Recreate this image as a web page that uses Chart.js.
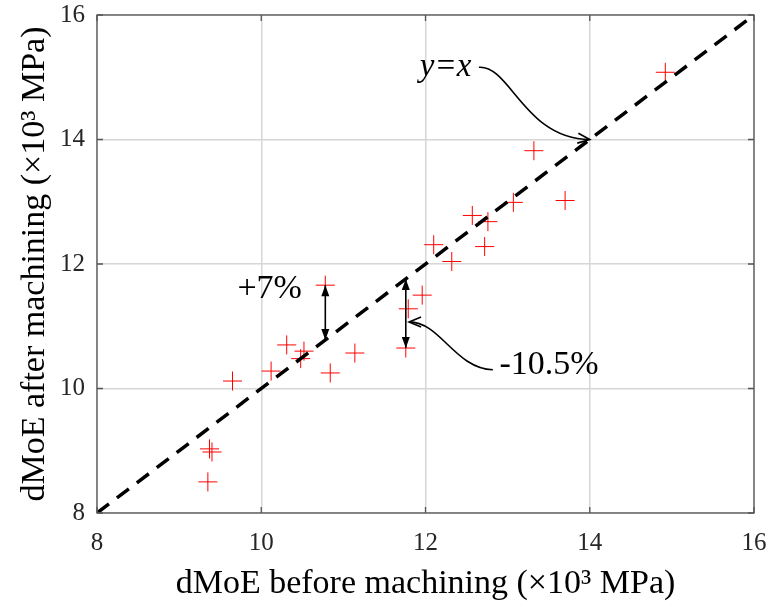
<!DOCTYPE html>
<html>
<head>
<meta charset="utf-8">
<script src="https://cdn.jsdelivr.net/npm/chart.js@4"></script>
<style>
  html, body { margin: 0; padding: 0; background: #fff; }
  #wrap { width: 771px; height: 607px; }
</style>
</head>
<body>
<div id="wrap"><canvas id="moe"></canvas></div>
<script>
// dMoE (x10^3 MPa) of each specimen before / after machining
const dmoeBefore = [9.35, 9.37, 9.40, 9.65, 10.12, 10.31, 10.48, 10.52, 10.78, 10.84, 11.14, 11.76, 11.79, 11.96, 12.10, 12.32, 12.57, 12.72, 12.76, 13.07, 13.32, 13.70, 14.92];
const dmoeAfter  = [8.50, 9.03, 8.98, 10.12, 10.28, 10.70, 10.48, 10.60, 11.66, 10.25, 10.57, 10.65, 11.28, 11.50, 12.31, 12.04, 12.78, 12.28, 12.68, 12.99, 13.82, 13.02, 15.08];
const axisTicks = [8, 10, 12, 14, 16];
const identityLine = [8, 16];

const points = dmoeBefore.map((x, i) => ({ x: x, y: dmoeAfter[i] }));
const serif = "'Liberation Serif', 'Times New Roman', serif";

function arrowHead(ctx, x, y, angle, len, half, filled) {
  ctx.save();
  ctx.translate(x, y);
  ctx.rotate(angle);
  ctx.beginPath();
  ctx.moveTo(-len, -half);
  ctx.lineTo(0, 0);
  ctx.lineTo(-len, half);
  if (filled) { ctx.closePath(); ctx.fill(); } else { ctx.stroke(); }
  ctx.restore();
}

function doubleArrow(ctx, xs, ys, xv, y1, y2) {
  const px = xs.getPixelForValue(xv);
  const a = ys.getPixelForValue(y1), b = ys.getPixelForValue(y2);
  ctx.beginPath();
  ctx.moveTo(px, a);
  ctx.lineTo(px, b);
  ctx.stroke();
  arrowHead(ctx, px, a, -Math.PI / 2, 11, 4, true);
  arrowHead(ctx, px, b, Math.PI / 2, 11, 4, true);
}

// frame, inward ticks and the text/arrow callouts
const callouts = {
  id: 'callouts',
  afterDatasetsDraw(chart) {
    const ctx = chart.ctx, area = chart.chartArea;
    const xs = chart.scales.x, ys = chart.scales.y;
    const X = v => xs.getPixelForValue(v), Y = v => ys.getPixelForValue(v);
    ctx.save();

    ctx.strokeStyle = '#555';
    ctx.lineWidth = 1.3;
    ctx.strokeRect(area.left, area.top, area.right - area.left, area.bottom - area.top);
    ctx.beginPath();
    axisTicks.forEach(t => {
      ctx.moveTo(X(t), area.bottom); ctx.lineTo(X(t), area.bottom - 6);
      ctx.moveTo(X(t), area.top); ctx.lineTo(X(t), area.top + 6);
      ctx.moveTo(area.left, Y(t)); ctx.lineTo(area.left + 6, Y(t));
      ctx.moveTo(area.right, Y(t)); ctx.lineTo(area.right - 6, Y(t));
    });
    ctx.stroke();

    ctx.fillStyle = '#000';
    ctx.strokeStyle = '#000';
    ctx.lineWidth = 1.6;
    ctx.textBaseline = 'middle';
    ctx.textAlign = 'left';

    // y=x label and curved pointer to (14,14)
    ctx.font = 'italic 33px ' + serif;
    ctx.fillText('y=x', X(11.93), Y(15.16));
    ctx.beginPath();
    ctx.moveTo(X(12.65), Y(15.16));
    ctx.bezierCurveTo(X(13.03), Y(15.2), X(13.21), Y(14.0), X(14.0), Y(14.0));
    ctx.stroke();
    arrowHead(ctx, X(14.0), Y(14.0), Math.atan2(Y(14.0) - Y(14.03), X(14.0) - X(13.8)), 12, 5, false);

    // +7% callout
    ctx.font = '34px ' + serif;
    ctx.fillText('+7%', X(9.71), Y(11.6));
    doubleArrow(ctx, xs, ys, 10.78, 11.66, 10.78);

    // -10.5% callout
    doubleArrow(ctx, xs, ys, 11.76, 11.76, 10.65);
    ctx.fillText('-10.5%', X(12.9), Y(10.38));
    ctx.beginPath();
    ctx.moveTo(X(12.82), Y(10.3));
    ctx.bezierCurveTo(X(12.36), Y(10.32), X(12.18), Y(11.07), X(11.8), Y(11.07));
    ctx.stroke();
    arrowHead(ctx, X(11.8), Y(11.07), Math.PI, 12, 5, false);

    ctx.restore();
  }
};

new Chart(document.getElementById('moe'), {
  type: 'scatter',
  data: {
    datasets: [
      {
        type: 'line',
        label: 'y=x',
        data: identityLine.map(v => ({ x: v, y: v })),
        borderColor: '#000',
        borderWidth: 3.5,
        borderDash: [15, 10],
        pointRadius: 0,
        fill: false
      },
      {
        label: 'dMoE',
        data: points,
        pointStyle: 'cross',
        pointRadius: 9.5,
        pointHoverRadius: 9.5,
        borderColor: '#ff0000',
        backgroundColor: '#ff0000',
        pointBorderWidth: 1
      }
    ]
  },
  options: {
    responsive: true,
    maintainAspectRatio: false,
    animation: false,
    events: [],
    layout: { padding: { left: 0, top: 15, right: 17, bottom: 0 } },
    plugins: {
      legend: { display: false },
      tooltip: { enabled: false }
    },
    scales: {
      x: {
        type: 'linear',
        min: 8, max: 16,
        afterFit: s => { s.height = 94; s.paddingLeft = 0; s.paddingRight = 0; },
        afterBuildTicks: s => { s.ticks = axisTicks.map(v => ({ value: v })); },
        grid: { color: '#d6d6d6', lineWidth: 1.5, drawTicks: false },
        border: { display: false },
        ticks: { color: '#262626', font: { family: serif, size: 25 }, padding: 15 },
        title: {
          display: true,
          text: 'dMoE before machining (×10³ MPa)',
          color: '#000',
          font: { family: serif, size: 34 },
          padding: { top: 0, bottom: 3 }
        }
      },
      y: {
        type: 'linear',
        min: 8, max: 16,
        afterFit: s => { s.width = 97; s.paddingTop = 0; s.paddingBottom = 0; },
        afterBuildTicks: s => { s.ticks = axisTicks.map(v => ({ value: v })); },
        grid: { color: '#d6d6d6', lineWidth: 1.5, drawTicks: false },
        border: { display: false },
        ticks: { color: '#262626', font: { family: serif, size: 25 }, padding: 12 },
        title: {
          display: true,
          text: 'dMoE after machining (×10³ MPa)',
          color: '#000',
          font: { family: serif, size: 34 },
          padding: { top: 15, bottom: 0 }
        }
      }
    }
  },
  plugins: [callouts]
});
</script>
</body>
</html>
